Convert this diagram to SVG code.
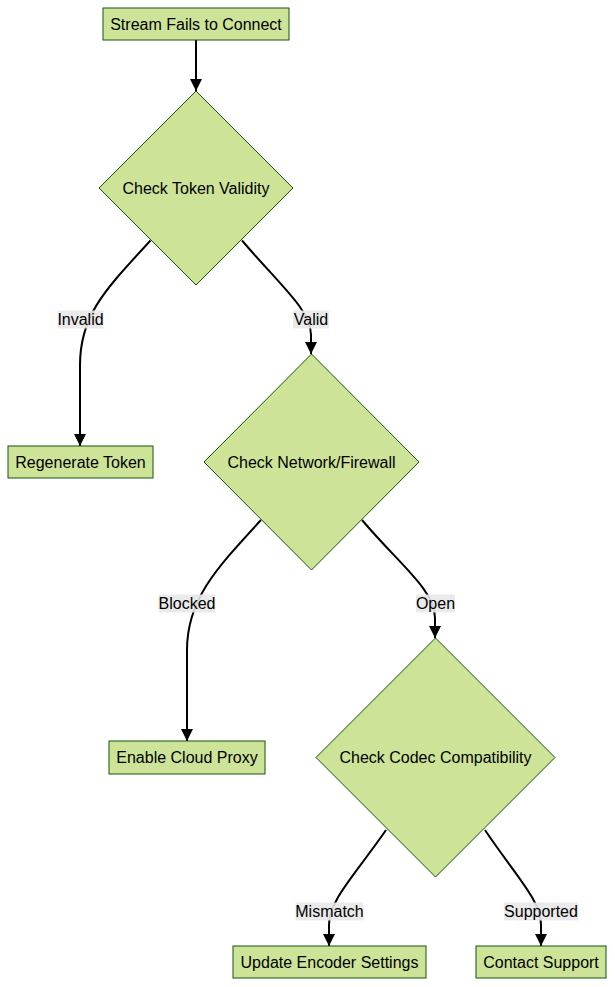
<svg xmlns="http://www.w3.org/2000/svg" width="615" height="987" viewBox="0 0 615 987">
<defs>
<style>
.node rect,.node polygon{fill:#cde498;stroke:#13540c;stroke-width:1}
text{font-family:"Liberation Sans",Arial,sans-serif;font-size:16px;fill:#000;text-anchor:middle;dominant-baseline:central}
.edge{fill:none;stroke:#000;stroke-width:2}
.lbl rect{fill:#e8e8e8;opacity:0.9}
</style>
<marker id="arr" viewBox="0 0 10 10" refX="10" refY="5" markerWidth="6" markerHeight="6" markerUnits="strokeWidth" orient="auto">
<path d="M0,0 L10,5 L0,10 z" fill="#000"/>
</marker>
</defs>
<rect width="615" height="987" fill="#fff"/>
<g id="connectors">
<path class="edge" d="M196,40 L196,91" marker-end="url(#arr)"/>
<path class="edge" d="M150.5,240.5 C105,290 80,315 80,365 L80,446" marker-end="url(#arr)"/>
<path class="edge" d="M242,240.5 C280,285 311,310 311,335 L311,354" marker-end="url(#arr)"/>
<path class="edge" d="M261,520 C215,570 187,600 187,650 L187,741" marker-end="url(#arr)"/>
<path class="edge" d="M362,520 C400,565 435,590 435,618 L435,638" marker-end="url(#arr)"/>
<path class="edge" d="M386,830 C355,875 329,900 329,925 L329,946" marker-end="url(#arr)"/>
<path class="edge" d="M485,830 C515,875 541,900 541,925 L541,946" marker-end="url(#arr)"/>
<g class="lbl"><rect x="57.5" y="310.5" width="46" height="18"/><text x="80.5" y="319.5">Invalid</text></g>
<g class="lbl"><rect x="293" y="310.5" width="36" height="18"/><text x="311" y="319.5">Valid</text></g>
<g class="lbl"><rect x="158.5" y="594.5" width="57" height="18"/><text x="187" y="603.5">Blocked</text></g>
<g class="lbl"><rect x="416" y="594.5" width="39" height="18"/><text x="435.5" y="603.5">Open</text></g>
<g class="lbl"><rect x="295.5" y="902.5" width="68" height="18"/><text x="329.5" y="911.5">Mismatch</text></g>
<g class="lbl"><rect x="504" y="902.5" width="74" height="18"/><text x="541" y="911.5">Supported</text></g>
</g>
<g id="start" class="node"><rect x="103" y="8" width="186" height="32"/><text x="196" y="24">Stream Fails to Connect</text></g>
<g id="token" class="node"><polygon points="196,91 293,188 196,285 99,188"/><text x="196" y="188">Check Token Validity</text></g>
<g id="regen" class="node"><rect x="8" y="446" width="145" height="32"/><text x="80.5" y="462">Regenerate Token</text></g>
<g id="network" class="node"><polygon points="311.5,354 419,462 311.5,570 204,462"/><text x="311.5" y="462">Check Network/Firewall</text></g>
<g id="proxy" class="node"><rect x="109" y="741" width="156" height="33"/><text x="187" y="757.5">Enable Cloud Proxy</text></g>
<g id="codec" class="node"><polygon points="435.5,638 555,757.5 435.5,877 316,757.5"/><text x="435.5" y="757.5">Check Codec Compatibility</text></g>
<g id="encoder" class="node"><rect x="233" y="946" width="193" height="32"/><text x="329.5" y="962">Update Encoder Settings</text></g>
<g id="support" class="node"><rect x="476" y="946" width="130" height="32"/><text x="541" y="962">Contact Support</text></g>
</svg>
